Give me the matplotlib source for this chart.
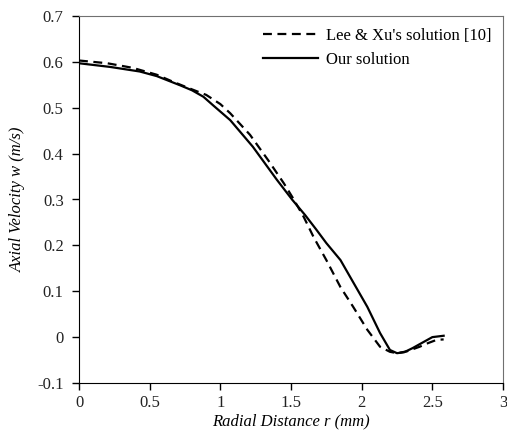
import numpy as np
import matplotlib.pyplot as plt

plt.rcParams['font.family'] = ['Liberation Serif', 'DejaVu Serif']

# Lee & Xu's solution [10]
r_lee = [0.0, 0.2, 0.38, 0.55, 0.67, 0.8, 0.9, 1.0, 1.07, 1.21, 1.34, 1.45, 1.51,
         1.59, 1.66, 1.75, 1.85, 1.94, 2.04, 2.13, 2.2, 2.25, 2.32, 2.41, 2.47,
         2.53, 2.58]
w_lee = [0.603, 0.597, 0.587, 0.572, 0.556, 0.54, 0.528, 0.508, 0.488, 0.441, 0.385,
         0.335, 0.305, 0.262, 0.218, 0.168, 0.109, 0.066, 0.016, -0.021, -0.032,
         -0.035, -0.031, -0.021, -0.013, -0.006, -0.005]

# Our solution
r_our = [0.0, 0.22, 0.43, 0.55, 0.715, 0.8, 0.88, 0.95, 1.07, 1.23, 1.4, 1.51, 1.6,
         1.68, 1.75, 1.85, 1.93, 2.04, 2.13, 2.2, 2.25, 2.3, 2.36, 2.43, 2.5, 2.58]
w_our = [0.597, 0.589, 0.579, 0.569, 0.549, 0.538, 0.524, 0.505, 0.473, 0.415, 0.343,
         0.299, 0.266, 0.234, 0.205, 0.168, 0.125, 0.066, 0.009, -0.028, -0.035,
         -0.033, -0.024, -0.012, 0.0, 0.003]

fig = plt.figure(figsize=(5.07, 4.36), dpi=100)
ax = fig.add_axes([79/507, 1 - 383/436, (503-79)/507, (383-16)/436])

ax.plot(r_lee, w_lee, color='black', lw=1.6, ls=(0, (4, 2.5)), label="Lee & Xu's solution [10]")
ax.plot(r_our, w_our, color='black', lw=1.6, label='Our solution')

ax.set_xlim(0, 3)
ax.set_ylim(-0.1, 0.7)
ax.set_xticks(np.arange(0, 3.01, 0.5))
ax.set_xticklabels(['0', '0.5', '1', '1.5', '2', '2.5', '3'])
ax.set_yticks(np.arange(-0.1, 0.71, 0.1))
ax.set_yticklabels(['-0.1', '0', '0.1', '0.2', '0.3', '0.4', '0.5', '0.6', '0.7'])
ax.tick_params(labelsize=12, length=5, width=1, color='black', labelcolor='#222222')
ax.tick_params(axis='y', pad=6)

for s in ['top', 'right']:
    ax.spines[s].set_color('#707070')
for s in ['left', 'bottom']:
    ax.spines[s].set_color('black')

ax.set_xlabel('Radial Distance r (mm)', fontsize=12, style='italic', labelpad=2)
ax.set_ylabel('Axial Velocity w (m/s)', fontsize=12, style='italic', labelpad=8)

ax.legend(loc='upper right', frameon=False, fontsize=12, handlelength=3.3,
          handletextpad=0.5, borderaxespad=0.3, labelspacing=0.5)

plt.savefig('out.png', dpi=100)
